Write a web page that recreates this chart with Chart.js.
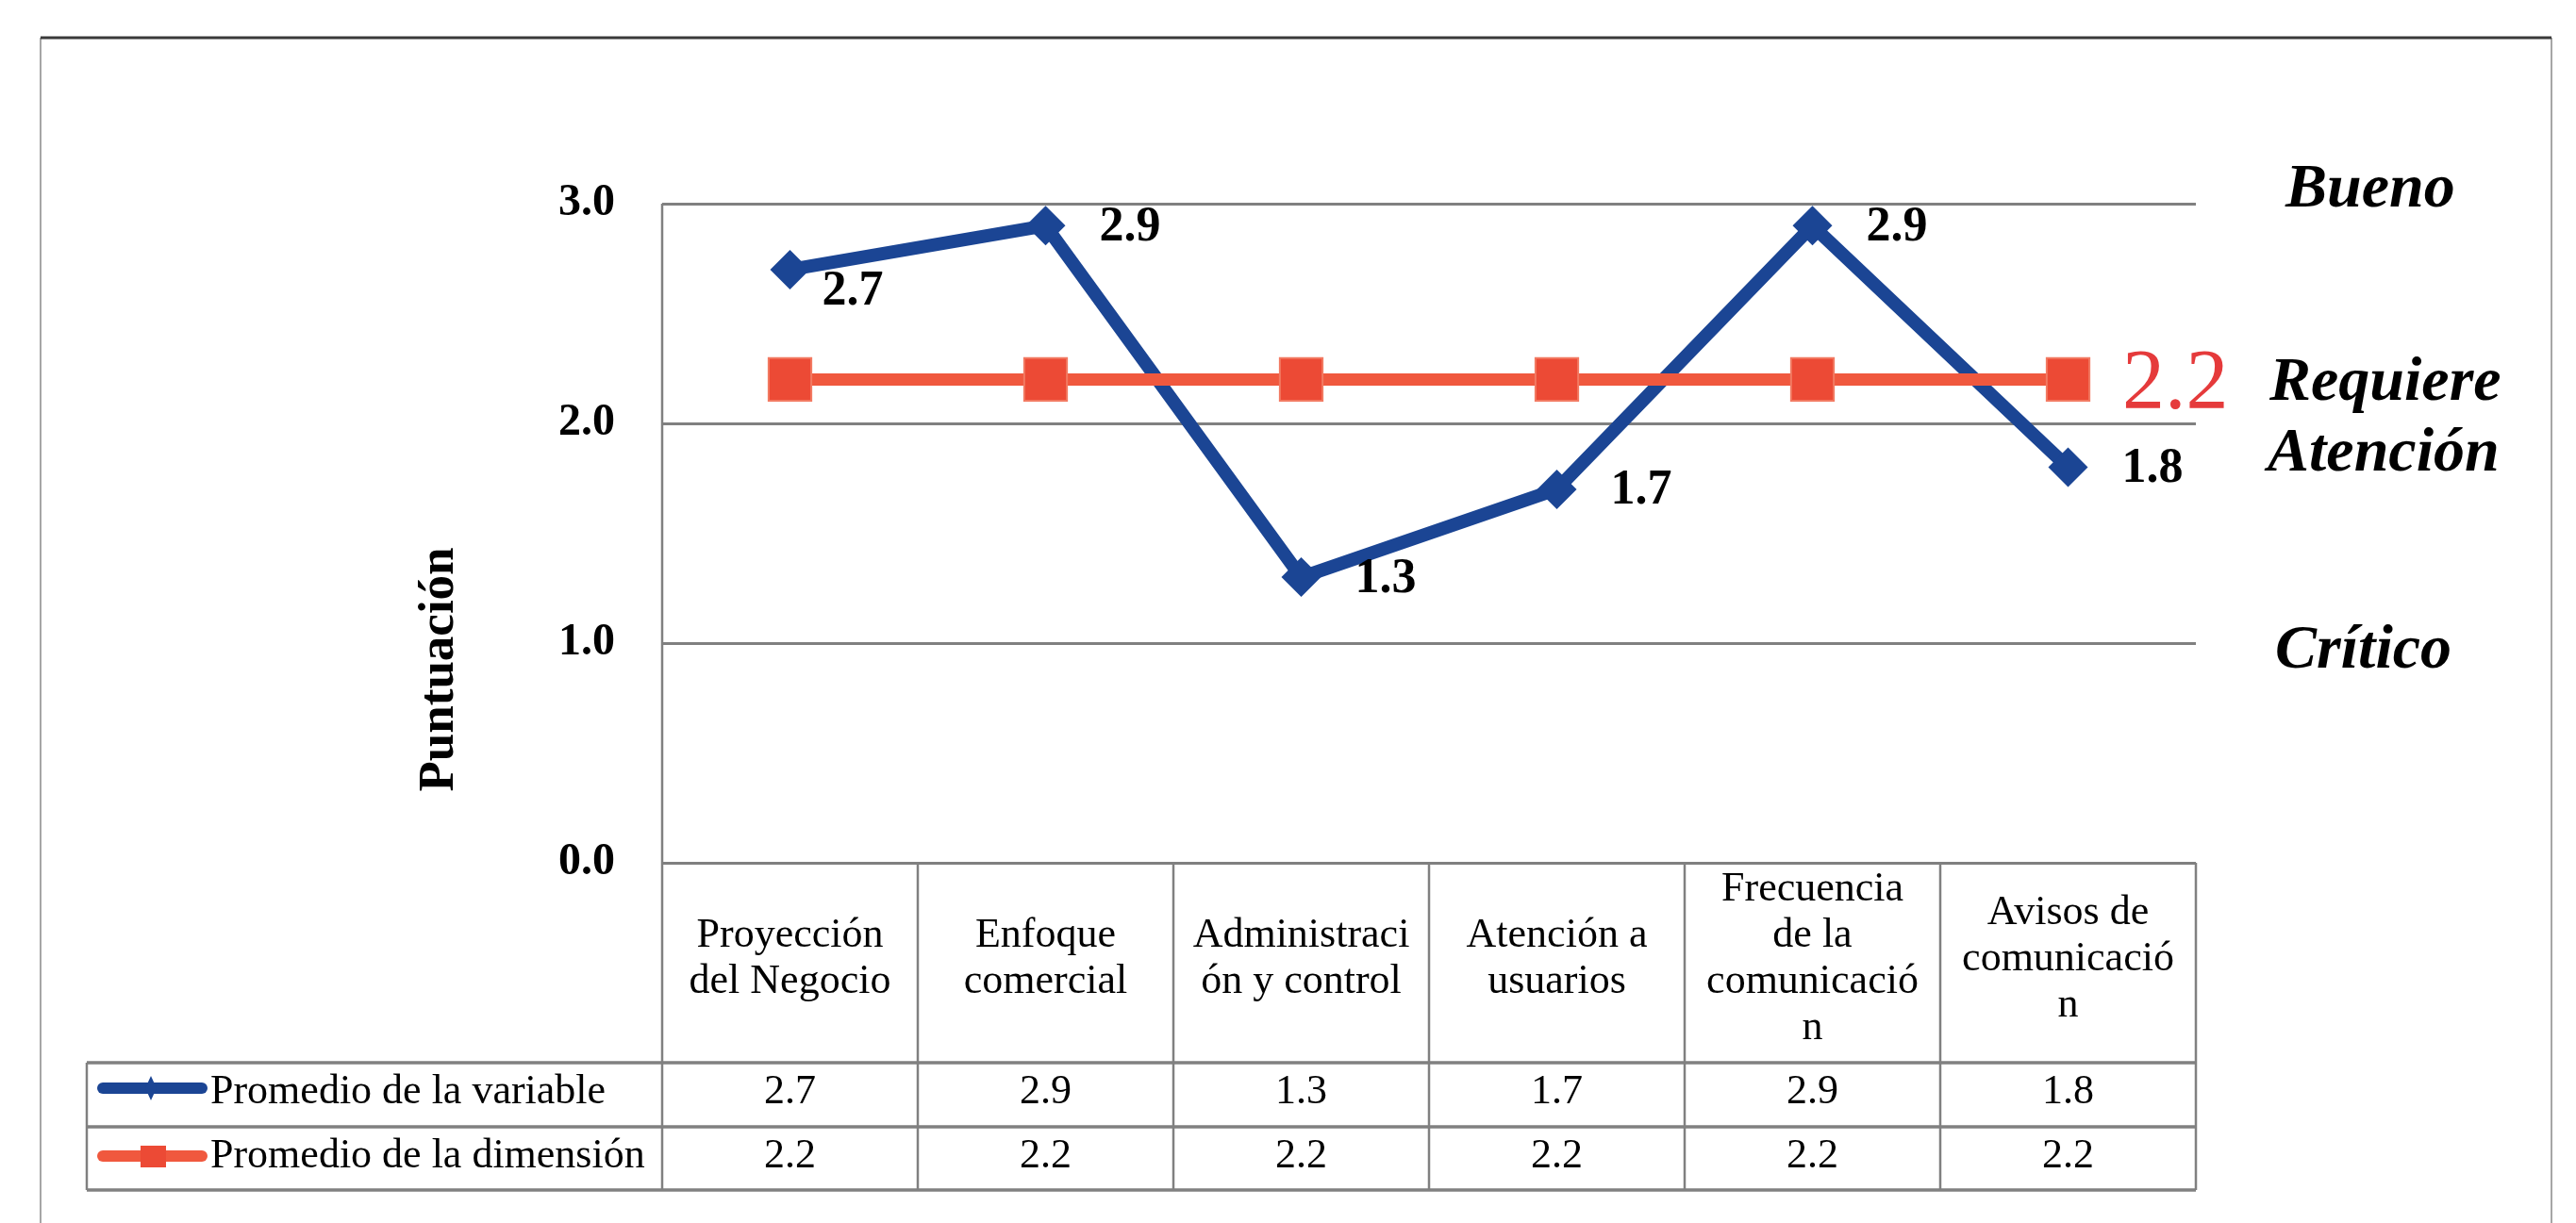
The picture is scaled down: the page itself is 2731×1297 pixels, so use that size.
<!DOCTYPE html>
<html>
<head>
<meta charset="utf-8">
<script src="https://cdn.jsdelivr.net/npm/chart.js@4.4.0/dist/chart.umd.min.js"></script>
<style>
  html, body { margin: 0; padding: 0; background: #fff; }
  canvas { display: block; }
</style>
</head>
<body>
<canvas id="grafica" width="2731" height="1297"></canvas>
<script>
// categorias (cortadas como en la tabla original)
const categorias = [
  ["Proyección", "del Negocio"],
  ["Enfoque", "comercial"],
  ["Administraci", "ón y control"],
  ["Atención a", "usuarios"],
  ["Frecuencia", "de la", "comunicació", "n"],
  ["Avisos de", "comunicació", "n"]
];
const series = ["Promedio de la variable", "Promedio de la dimensión"];
const promedioVariable = [2.7, 2.9, 1.3, 1.7, 2.9, 1.8];
const promedioDimension = [2.2, 2.2, 2.2, 2.2, 2.2, 2.2];
const ticksY = [0, 1, 2, 3];
const niveles = ["Bueno", "Requiere", "Atención", "Crítico"];
const tituloY = "Puntuación";

const serif = '"Liberation Serif", "Times New Roman", serif';
const azul = "#1b4594";
const naranja = "#f0583e";
const gris = "#808080";

function linea(ctx, x1, y1, x2, y2, w) {
  ctx.lineWidth = w;
  ctx.beginPath();
  ctx.moveTo(x1, y1);
  ctx.lineTo(x2, y2);
  ctx.stroke();
}

const extras = {
  id: "extras",
  beforeDraw(chart) {
    const ctx = chart.ctx;
    ctx.save();
    ctx.fillStyle = "#fff";
    ctx.fillRect(0, 0, chart.width, chart.height);
    ctx.restore();
  },
  afterDatasetsDraw(chart) {
    const ctx = chart.ctx;
    const meta = chart.getDatasetMeta(0);
    ctx.save();
    ctx.fillStyle = "#000";
    ctx.font = "bold 52px " + serif;
    ctx.textAlign = "left";
    meta.data.forEach((p, i) => {
      const txt = promedioVariable[i].toFixed(1);
      if (i === 0) {
        ctx.textBaseline = "alphabetic";
        ctx.fillText(txt, p.x + 34, p.y + 37);
      } else {
        ctx.textBaseline = "middle";
        ctx.fillText(txt, p.x + 57, p.y + 2);
      }
    });
    ctx.restore();
  },
  afterDraw(chart) {
    const ctx = chart.ctx;
    const area = chart.chartArea;
    const x = chart.scales.x;
    const y = chart.scales.y;
    const colW = (area.right - area.left) / categorias.length;
    const top = area.bottom;
    const r1 = top + 212, r2 = r1 + 68, r3 = r2 + 67;
    const tablaIzq = 92;

    ctx.save();
    // marco exterior
    ctx.strokeStyle = "#a6a6a6";
    linea(ctx, 43, 40, 43, chart.height, 2);
    linea(ctx, 2705, 40, 2705, chart.height, 2);
    ctx.strokeStyle = "#3a3a3a";
    linea(ctx, 43, 40, 2705, 40, 3);

    // eje y y tabla
    ctx.strokeStyle = gris;
    linea(ctx, area.left, area.top, area.left, r3, 2.5);
    for (let k = 1; k <= categorias.length; k++) {
      const cx = area.left + k * colW;
      linea(ctx, cx, top, cx, r3, 2.5);
    }
    linea(ctx, tablaIzq, r1, tablaIzq, r3, 2.5);
    [r1, r2, r3].forEach(ry => linea(ctx, tablaIzq, ry, area.right, ry, 3.5));

    // textos de la tabla
    ctx.fillStyle = "#000";
    ctx.font = "44px " + serif;
    ctx.textAlign = "center";
    ctx.textBaseline = "middle";
    categorias.forEach((lineas, i) => {
      const cx = x.getPixelForValue(i);
      lineas.forEach((t, j) => {
        ctx.fillText(t, cx, top + 102 + (j - (lineas.length - 1) / 2) * 49);
      });
      ctx.fillText(promedioVariable[i].toFixed(1), cx, r1 + 31);
      ctx.fillText(promedioDimension[i].toFixed(1), cx, r2 + 31);
    });

    // leyenda dentro de la tabla
    ctx.textAlign = "left";
    ctx.fillText(series[0], 223, r1 + 31);
    ctx.fillText(series[1], 223, r2 + 31);
    ctx.lineCap = "round";
    ctx.strokeStyle = azul;
    linea(ctx, 109, r1 + 27, 214, r1 + 27, 12);
    ctx.strokeStyle = naranja;
    linea(ctx, 109, r2 + 31, 214, r2 + 31, 12);
    ctx.fillStyle = azul;
    ctx.beginPath();
    ctx.moveTo(160, r1 + 14);
    ctx.lineTo(166, r1 + 27);
    ctx.lineTo(160, r1 + 40);
    ctx.lineTo(154, r1 + 27);
    ctx.closePath();
    ctx.fill();
    ctx.fillStyle = "#ec4a35";
    ctx.fillRect(149, r2 + 20, 27, 23);

    // titulo del eje y
    ctx.save();
    ctx.translate(466, 710);
    ctx.rotate(-Math.PI / 2);
    ctx.fillStyle = "#000";
    ctx.font = "bold 53px " + serif;
    ctx.textAlign = "center";
    ctx.textBaseline = "middle";
    ctx.fillText(tituloY, 0, 0);
    ctx.restore();

    // niveles a la derecha
    ctx.fillStyle = "#000";
    ctx.font = "italic bold 66px " + serif;
    ctx.textAlign = "left";
    ctx.textBaseline = "alphabetic";
    ctx.fillText(niveles[0], area.right + 95, y.getPixelForValue(3) + 3);
    ctx.fillText(niveles[1], area.right + 78, y.getPixelForValue(2) - 25);
    ctx.fillText(niveles[2], area.right + 76, y.getPixelForValue(2) + 50);
    ctx.fillText(niveles[3], area.right + 84, y.getPixelForValue(1) + 26);

    // valor de la dimension
    const ult = promedioDimension.length - 1;
    ctx.fillStyle = "#e53a3b";
    ctx.font = "90px " + serif;
    ctx.fillText(promedioDimension[ult].toFixed(1), area.right - 78, y.getPixelForValue(promedioDimension[ult]) + 31);
    ctx.restore();
  }
};

Chart.defaults.font.family = serif;

const chart = new Chart(document.getElementById("grafica").getContext("2d"), {
  type: "line",
  data: {
    labels: categorias,
    datasets: [
      {
        label: series[0],
        data: promedioVariable,
        borderColor: azul,
        borderWidth: 14,
        pointStyle: "rectRot",
        pointRadius: 21,
        pointBackgroundColor: azul,
        pointBorderColor: azul,
        pointBorderWidth: 0,
        tension: 0,
        order: 2
      },
      {
        label: series[1],
        data: promedioDimension,
        borderColor: naranja,
        borderWidth: 13,
        pointStyle: "rect",
        pointRadius: 32,
        pointBackgroundColor: "#ec4a35",
        pointBorderColor: "#f27a62",
        pointBorderWidth: 2,
        tension: 0,
        order: 1
      }
    ]
  },
  options: {
    responsive: false,
    animation: false,
    devicePixelRatio: 1,
    layout: { padding: { top: 216, right: 403, bottom: 382, left: 0 } },
    plugins: {
      legend: { display: false },
      tooltip: { enabled: false }
    },
    scales: {
      x: {
        type: "category",
        offset: true,
        display: false
      },
      y: {
        min: 0,
        max: 3,
        afterFit: s => { s.width = 702; },
        afterBuildTicks: s => { s.ticks = ticksY.map(v => ({ value: v })); },
        border: { display: false },
        grid: { color: gris, lineWidth: 3, drawTicks: false },
        ticks: {
          padding: 50,
          color: "#000",
          font: { size: 48, weight: "bold" },
          callback: v => Number(v).toFixed(1)
        }
      }
    }
  },
  plugins: [extras]
});
</script>
</body>
</html>
